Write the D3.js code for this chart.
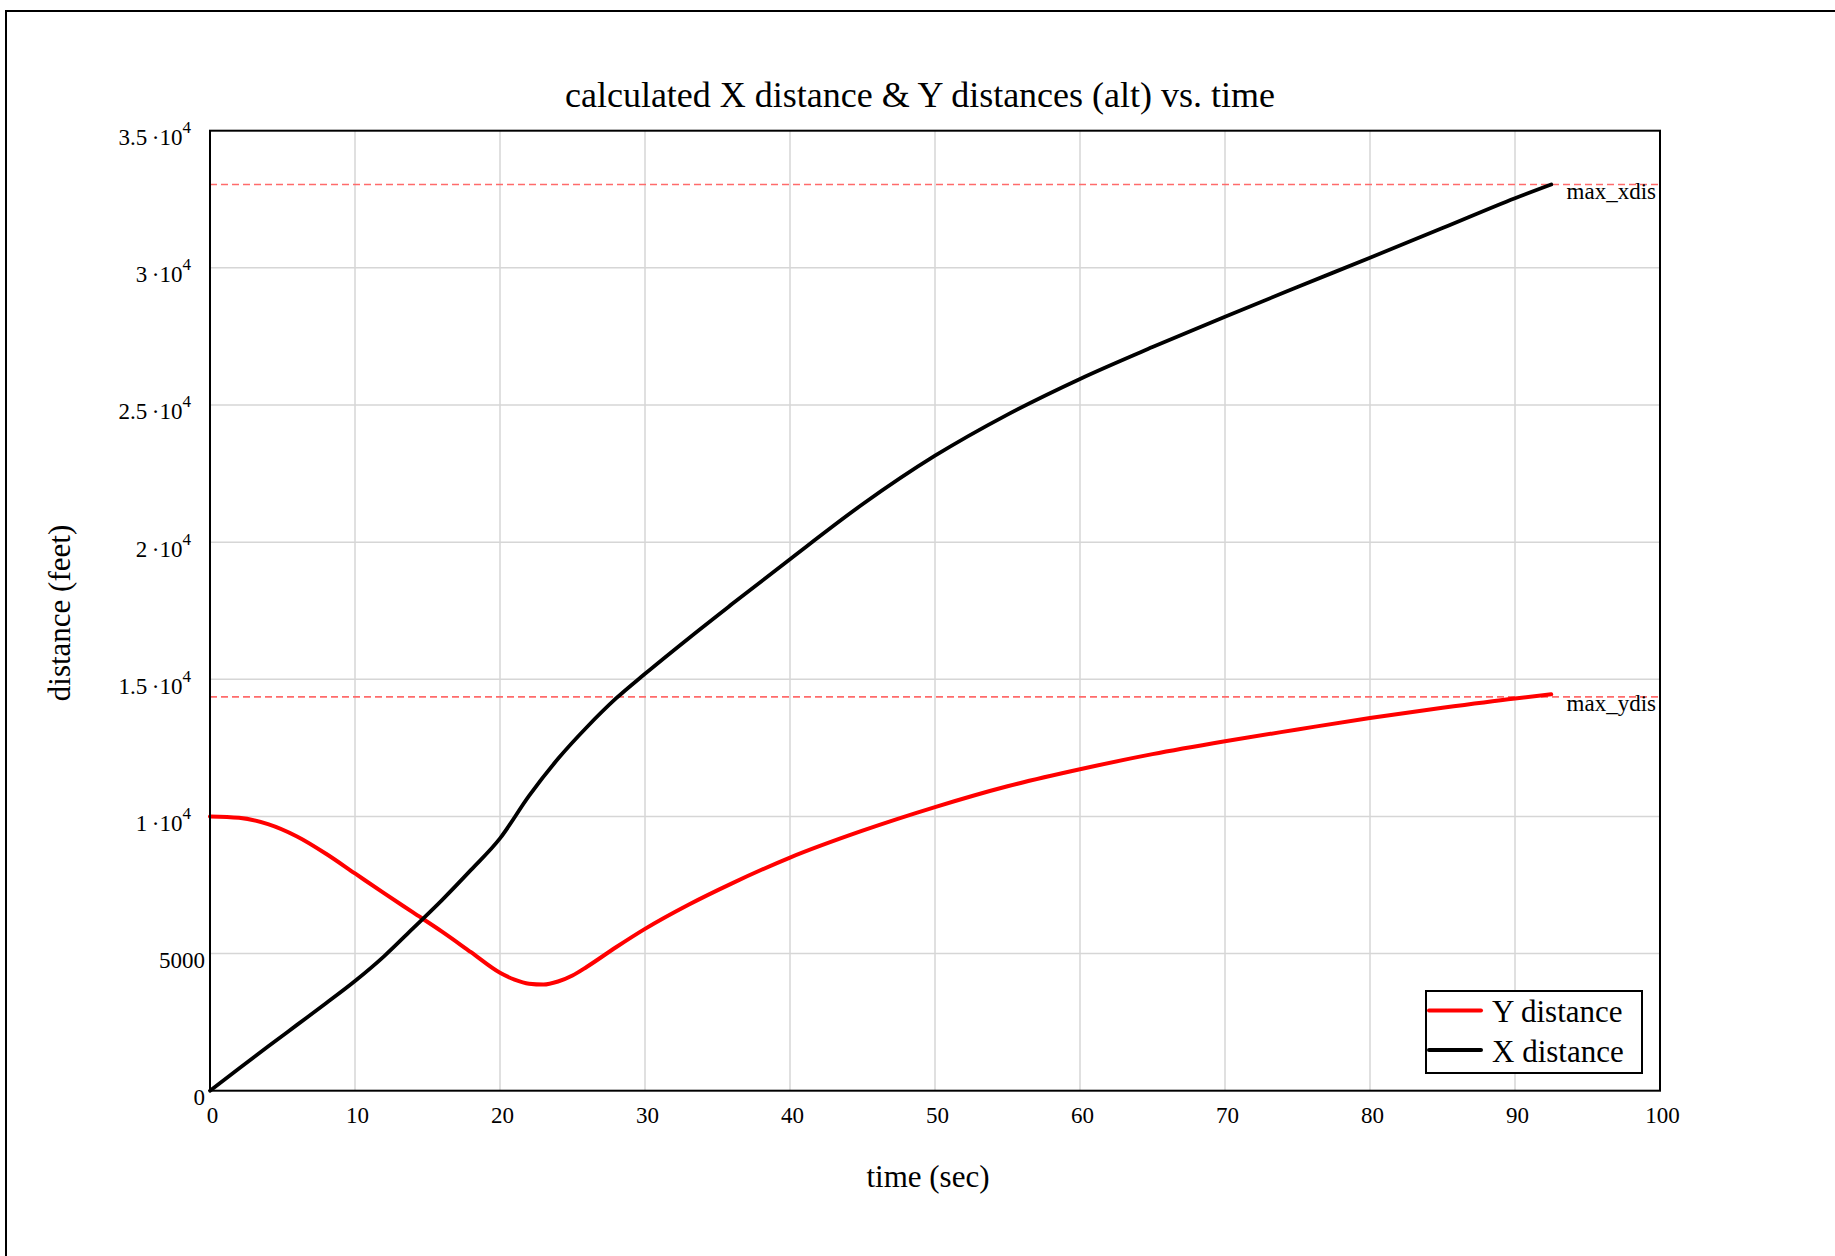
<!DOCTYPE html>
<html>
<head>
<meta charset="utf-8">
<script src="https://cdn.jsdelivr.net/npm/d3@7"></script>
<style>
  html, body { margin: 0; padding: 0; background: #fff; }
  svg { display: block; }
  text { font-family: "Liberation Serif", "Times New Roman", serif; fill: #000; }
</style>
</head>
<body>
<svg id="chart" width="1835" height="1256"></svg>
<script>
// ---- data ----
const timeY = [0, 2, 4, 6, 8, 10, 12, 14, 16, 18, 20, 21, 22, 23, 24, 25, 26, 28, 30, 33, 36, 40, 45, 50, 55, 60, 65, 70, 75, 80, 85, 90, 92.5];
const yDistance = [10000, 9950, 9720, 9270, 8640, 7920, 7200, 6500, 5800, 5050, 4300, 4050, 3900, 3870, 3980, 4200, 4520, 5230, 5900, 6780, 7560, 8500, 9480, 10340, 11100, 11720, 12270, 12740, 13170, 13590, 13960, 14300, 14450];

const timeX = [0, 2, 4, 6, 8, 10, 12, 14, 16, 18, 20, 22, 24, 26, 28, 30, 33, 36, 40, 45, 50, 55, 60, 65, 70, 75, 80, 85, 90, 92.5];
const xDistance = [0, 810, 1610, 2400, 3190, 4000, 4900, 5920, 6950, 8050, 9200, 10750, 12100, 13260, 14300, 15200, 16490, 17740, 19380, 21380, 23150, 24650, 25950, 27110, 28220, 29300, 30370, 31450, 32540, 33040];

const maxXdis = 33040;
const maxYdis = 14360;
const maxLabels = ["max_xdis", "max_ydis"];

const xTicks = [0, 10, 20, 30, 40, 50, 60, 70, 80, 90, 100];
const yTicks = [0, 5000, 10000, 15000, 20000, 25000, 30000, 35000];
const yTickMantissa = ["0", "5000", "1", "1.5", "2", "2.5", "3", "3.5"];
const yTickExponent = [null, null, "4", "4", "4", "4", "4", "4"];

const seriesNames = ["Y distance", "X distance"];
const seriesColors = ["#ff0000", "#000000"];

const titleText = "calculated X distance & Y distances (alt) vs. time";
const xLabel = "time (sec)";
const yLabel = "distance (feet)";

// ---- layout ----
const L = 210, R = 1660, T = 130.7, B = 1090.7;
const svg = d3.select("#chart");

// outer frame
svg.append("rect").attr("x", 6).attr("y", 11).attr("width", 2000).attr("height", 2000)
  .attr("fill", "none").attr("stroke", "#000").attr("stroke-width", 2);

const x = d3.scaleLinear().domain([0, 100]).range([L, R]);
const y = d3.scaleLinear().domain([0, 35000]).range([B, T]);

// grid
const grid = svg.append("g");
grid.selectAll("line.vx").data(xTicks.filter(d => d > 0 && d < 100)).join("line")
  .attr("x1", d => x(d)).attr("x2", d => x(d)).attr("y1", T).attr("y2", B)
  .attr("stroke", "#d6d6d6").attr("stroke-width", 1.5);
grid.selectAll("line.hy").data(yTicks.filter(d => d > 0 && d < 35000)).join("line")
  .attr("x1", L).attr("x2", R).attr("y1", d => y(d)).attr("y2", d => y(d))
  .attr("stroke", "#d6d6d6").attr("stroke-width", 1.5);

// max dashed lines
const maxVals = [maxXdis, maxYdis];
svg.append("g").selectAll("line").data(maxVals).join("line")
  .attr("x1", L).attr("x2", R).attr("y1", d => y(d)).attr("y2", d => y(d))
  .attr("stroke", "#ff6b6b").attr("stroke-width", 1.6).attr("stroke-dasharray", "7,4");
svg.append("g").selectAll("text").data(maxVals).join("text")
  .attr("x", 1656).attr("y", d => y(d) + 14.5).attr("text-anchor", "end")
  .attr("font-size", 23).text((d, i) => maxLabels[i]);

// lines
const lineGen = d3.line().x(d => x(d[0])).y(d => y(d[1])).curve(d3.curveMonotoneX);
const yPts = timeY.map((t, i) => [t, yDistance[i]]);
const xPts = timeX.map((t, i) => [t, xDistance[i]]);
svg.append("path").datum(yPts).attr("d", lineGen).attr("fill", "none")
  .attr("stroke", seriesColors[0]).attr("stroke-width", 4).attr("stroke-linecap", "round");
svg.append("path").datum(xPts).attr("d", lineGen).attr("fill", "none")
  .attr("stroke", seriesColors[1]).attr("stroke-width", 3.8).attr("stroke-linecap", "round");

// frame
svg.append("rect").attr("x", L).attr("y", T).attr("width", R - L).attr("height", B - T)
  .attr("fill", "none").attr("stroke", "#000").attr("stroke-width", 2);

// x axis labels
const gx = svg.append("g").attr("transform", `translate(0,${B})`)
  .call(d3.axisBottom(x).tickValues(xTicks).tickSize(0).tickFormat(d3.format("d")));
gx.select(".domain").remove();
gx.selectAll(".tick text").attr("y", 32).attr("dy", null).attr("x", 2)
  .attr("font-size", 23).attr("font-family", "Liberation Serif, Times New Roman, serif").attr("fill", "#000");

// y axis labels
const gy = svg.append("g").attr("transform", `translate(${L},0)`)
  .call(d3.axisLeft(y).tickValues(yTicks).tickSize(0));
gy.select(".domain").remove();
gy.selectAll(".tick text").each(function (d, i) {
  const t = d3.select(this);
  t.text(null).attr("dy", null).attr("y", 14)
    .attr("font-size", 23).attr("font-family", "Liberation Serif, Times New Roman, serif").attr("fill", "#000")
    .attr("text-anchor", "end");
  if (yTickExponent[i]) {
    t.attr("x", -19);
    t.append("tspan").text(yTickMantissa[i] + "\u2009\u00b710");
    t.append("tspan").attr("font-size", 17).attr("dy", -12).text(yTickExponent[i]);
  } else {
    t.attr("x", -5);
    t.append("tspan").text(yTickMantissa[i]);
  }
});

// title and axis titles
svg.append("text").attr("x", 920).attr("y", 107).attr("text-anchor", "middle")
  .attr("font-size", 36).text(titleText);
svg.append("text").attr("x", 928).attr("y", 1187).attr("text-anchor", "middle")
  .attr("font-size", 31).text(xLabel);
svg.append("text").attr("transform", "translate(70,613) rotate(-90)").attr("text-anchor", "middle")
  .attr("font-size", 31).text(yLabel);

// legend
const lg = svg.append("g");
lg.append("rect").attr("x", 1426).attr("y", 991).attr("width", 216).attr("height", 82)
  .attr("fill", "#fff").attr("stroke", "#000").attr("stroke-width", 2);
const legendY = [1010.5, 1050];
seriesNames.forEach((name, i) => {
  lg.append("line").attr("x1", 1429).attr("x2", 1481).attr("y1", legendY[i]).attr("y2", legendY[i])
    .attr("stroke", seriesColors[i]).attr("stroke-width", 4).attr("stroke-linecap", "round");
  lg.append("text").attr("x", 1492).attr("y", legendY[i] + 11.5).attr("font-size", 31).text(name);
});
</script>
</body>
</html>
